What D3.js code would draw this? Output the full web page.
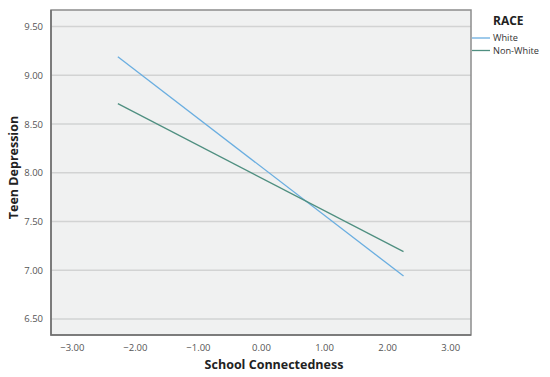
<!DOCTYPE html>
<html>
<head>
<meta charset="utf-8">
<script src="https://cdn.jsdelivr.net/npm/d3@7"></script>
<style>
  body { margin: 0; background: #fff; }
  text { font-family: "Open Sans", "DejaVu Sans", sans-serif; }
</style>
</head>
<body>
<div class="canvas"></div>
<script>
// data
const groups = ['White', 'Non-White'];
const colors = ['#6aaee0', '#4f8f80'];
const xEnds = [-2.27, 2.26];
const whiteY = [9.19, 6.94];
const nonWhiteY = [8.71, 7.19];
const xTicks = [-3, -2, -1, 0, 1, 2, 3];
const yTicks = [6.5, 7.0, 7.5, 8.0, 8.5, 9.0, 9.5];

const svg = d3.select('.canvas')
  .append('svg')
    .attr('width', 550)
    .attr('height', 377);

const margin = {top: 10, left: 51, right: 79, bottom: 42};
const graphWidth = 550 - margin.left - margin.right;
const graphHeight = 377 - margin.top - margin.bottom;

const graph = svg.append('g')
  .attr('transform', `translate(${margin.left}, ${margin.top})`);

const x = d3.scaleLinear().domain([-3.33, 3.33]).range([0, graphWidth]);
const y = d3.scaleLinear().domain([6.335, 9.67]).range([graphHeight, 0]);

// background
graph.append('rect')
  .attr('width', graphWidth)
  .attr('height', graphHeight)
  .attr('fill', '#f0f1f1');

// gridlines
graph.selectAll('.grid')
  .data(yTicks)
  .enter().append('line')
    .attr('x1', 0)
    .attr('x2', graphWidth)
    .attr('y1', d => y(d))
    .attr('y2', d => y(d))
    .attr('stroke', '#d2d3d3')
    .attr('stroke-width', 1.5);

// frame
graph.append('rect')
  .attr('width', graphWidth)
  .attr('height', graphHeight)
  .attr('fill', 'none')
  .attr('stroke', '#8c8c8c')
  .attr('stroke-width', 1.5);
graph.append('path')
  .attr('d', `M0,0V${graphHeight}H${graphWidth}`)
  .attr('fill', 'none')
  .attr('stroke', '#6e6e6e')
  .attr('stroke-width', 1.5);

// axes
const xAxis = d3.axisBottom(x).tickValues(xTicks).tickSize(0).tickPadding(9).tickFormat(d3.format('.2f'));
const yAxis = d3.axisLeft(y).tickValues(yTicks).tickSize(0).tickPadding(8).tickFormat(d3.format('.2f'));

const xAxisGroup = graph.append('g')
  .attr('transform', `translate(0, ${graphHeight})`)
  .call(xAxis);
const yAxisGroup = graph.append('g').call(yAxis);

[xAxisGroup, yAxisGroup].forEach(g => {
  g.select('.domain').remove();
  g.selectAll('text')
    .attr('fill', '#555')
    .style('font-size', '9.5px');
});

// lines
const series = [whiteY, nonWhiteY];
const line = d3.line()
  .x(d => x(d[0]))
  .y(d => y(d[1]));

graph.selectAll('.fit')
  .data(series)
  .enter().append('path')
    .attr('fill', 'none')
    .attr('stroke', (d, i) => colors[i])
    .attr('stroke-width', 1.3)
    .attr('d', d => line(xEnds.map((xv, j) => [xv, d[j]])));

// axis titles
svg.append('text')
  .attr('x', margin.left + graphWidth / 2 + 13)
  .attr('y', 369)
  .attr('text-anchor', 'middle')
  .style('font-size', '12.5px')
  .style('font-weight', 'bold')
  .attr('fill', '#222')
  .text('School Connectedness');

svg.append('text')
  .attr('transform', `translate(18, ${margin.top + graphHeight / 2 - 5}) rotate(-90)`)
  .attr('text-anchor', 'middle')
  .style('font-size', '12.5px')
  .style('font-weight', 'bold')
  .attr('fill', '#222')
  .text('Teen Depression');

// legend
const legend = svg.append('g')
  .attr('transform', 'translate(472, 0)');

legend.append('text')
  .attr('x', 21)
  .attr('y', 25)
  .style('font-size', '12px')
  .style('font-weight', 'bold')
  .attr('fill', '#222')
  .text('RACE');

const items = legend.selectAll('.item')
  .data(groups)
  .enter().append('g')
    .attr('transform', (d, i) => `translate(0, ${38 + i * 12.5})`);

items.append('line')
  .attr('x1', 0)
  .attr('x2', 18)
  .attr('stroke', (d, i) => colors[i])
  .attr('stroke-width', 1.3);

items.append('text')
  .attr('x', 21)
  .attr('y', 3.2)
  .style('font-size', '9.2px')
  .attr('fill', '#333')
  .text(d => d);
</script>
</body>
</html>
